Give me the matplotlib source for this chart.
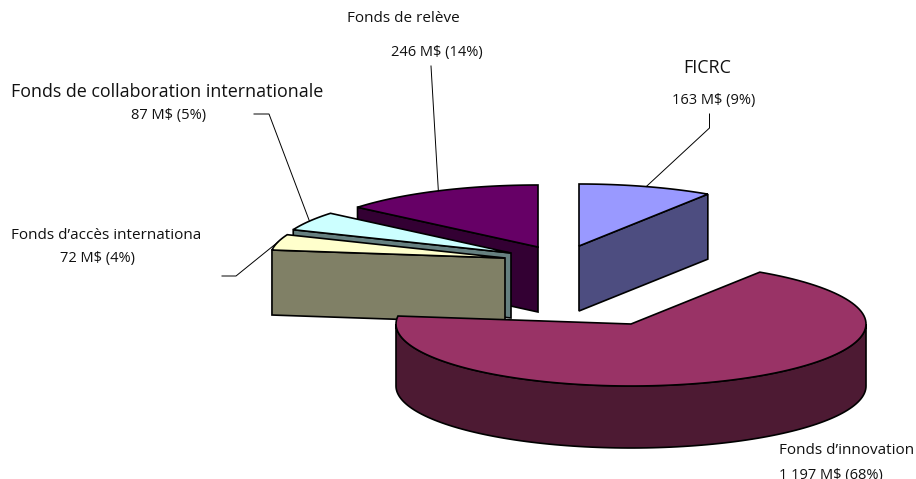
import numpy as np
import matplotlib
matplotlib.use("Agg")
import matplotlib.pyplot as plt

# ---- data (clockwise from 12 o'clock) ----
categories = ["FICRC", "Fonds d’innovation", "Fonds d’accès internationa",
              "Fonds de collaboration internationale", "Fonds de relève"]
amounts = [163, 1197, 72, 87, 246]
amount_labels = ["163 M$", "1 197 M$", "72 M$", "87 M$", "246 M$"]

# ---- styles ----
top_colors = ["#9999FF", "#993366", "#FFFFCC", "#CCFFFF", "#660066"]
side_colors = ["#4D4D80", "#4D1A33", "#808066", "#668080", "#330033"]

plt.rcParams["font.family"] = ["Open Sans", "DejaVu Sans"]
W, H = 916, 479
RX, RY, DEPTH = 235, 62, 65
LW = 1.2
# exploded position of each slice's apex in the canvas
apex_x = [579, 631, 505, 511, 538]
apex_y = [246, 324, 258, 253, 247]
draw_order = [4, 3, 2, 0, 1]

fig = plt.figure(figsize=(W / 100, H / 100), dpi=100)
ax = fig.add_axes([0, 0, 1, 1])
ax.set_xlim(0, W)
ax.set_ylim(H, 0)
ax.axis("off")

total = sum(amounts)
edges = np.concatenate([[0], np.cumsum(amounts)]) / total * 360.0
mids = (edges[:-1] + edges[1:]) / 2


def arc(cx, cy, a0, a1, n=120):
    t = np.radians(np.linspace(a0, a1, n))
    return cx + RX * np.sin(t), cy - RY * np.cos(t)


def poly(x, y, color, z):
    ax.fill(x, y, facecolor=color, edgecolor="black", linewidth=LW,
            joinstyle="miter", zorder=z)


for z, i in enumerate(draw_order):
    a0, a1 = edges[i], edges[i + 1]
    cx, cy = apex_x[i], apex_y[i]
    base = 10 + z * 10
    side = side_colors[i]
    depth = DEPTH - 3 if i == 1 else DEPTH
    # rim: the part of the outer wall turned toward the viewer
    r0, r1 = max(a0, 90), min(a1, 270)
    if r1 > r0:
        x, y = arc(cx, cy, r0, r1)
        poly(np.r_[x, x[::-1]], np.r_[y, y[::-1] + depth], side, base)
    # cut faces, when they look toward the viewer
    for ang, normal in ((a0, a0 - 90), (a1, a1 + 90)):
        if np.cos(np.radians(normal)) < -1e-6:
            x, y = arc(cx, cy, ang, ang, 1)
            poly([cx, x[0], x[0], cx], [cy, y[0], y[0] + depth, cy + depth], side, base + 1)
    # top face
    x, y = arc(cx, cy, a0, a1)
    poly(np.r_[cx, x], np.r_[cy, y], top_colors[i], base + 2)

# ---- leader lines: start / elbow in canvas, end on the slice's arc midpoint ----
leaders = {0: [(709.5, 114), (709.5, 128)],
           2: [(222, 276), (236, 276)],
           3: [(254, 114), (269, 114)],
           4: [(431, 66)]}
for i, pts in leaders.items():
    ex, ey = arc(apex_x[i], apex_y[i], mids[i], mids[i], 1)
    xs = [p[0] for p in pts] + [ex[0]]
    ys = [p[1] for p in pts] + [ey[0]]
    ax.plot(xs, ys, color="black", lw=0.7, zorder=100)

# ---- labels ----
pct = [f"{a / total * 100:.0f}%" for a in amounts]
values = [f"{l} ({p})" for l, p in zip(amount_labels, pct)]
SMALL, VALUE, BIG = 11.0, 10.5, 12.9
TXT = "#111111"


def label(x, y, s, size, ha="center"):
    ax.text(x, y, s, fontsize=size, ha=ha, va="center", color=TXT, zorder=110, clip_on=False)


label(403, 18, categories[4], SMALL)
label(436.5, 52.5, values[4], VALUE)
label(707, 68, categories[0], BIG)
label(714, 100, values[0], VALUE)
label(11, 92, categories[3], BIG, ha="left")
label(168.5, 115, values[3], VALUE)
label(11, 235.5, categories[2], SMALL, ha="left")
label(97, 258.5, values[2], VALUE)
label(779, 450, categories[1], SMALL, ha="left")
label(779, 475, values[1], VALUE, ha="left")

fig.savefig("out.png", dpi=100, facecolor="white")
